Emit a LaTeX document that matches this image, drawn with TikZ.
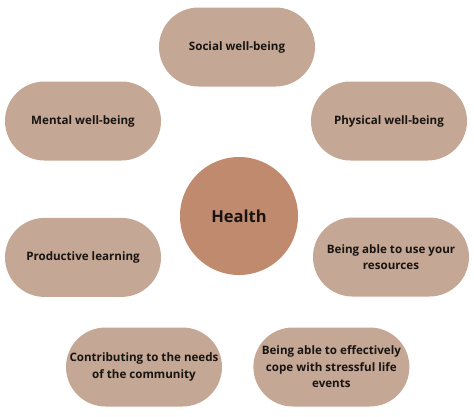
\documentclass[tikz,border=0pt]{standalone}
\usepackage{fontspec}
\setmainfont{Open Sans}
\usepackage{tikz}
\usetikzlibrary{positioning,shapes}
\definecolor{pilltan}{RGB}{196,167,148}
\definecolor{centertan}{RGB}{192,138,111}
\definecolor{inktext}{RGB}{24,20,18}

\begin{document}
\begin{tikzpicture}[
x=1pt, y=-1pt,
pill/.style={rounded rectangle, fill=pilltan, minimum width=160pt, minimum height=79pt, inner sep=2pt, align=center, font=\bfseries\fontsize{11.6}{16.5}\selectfont, text=inktext},
hub/.style={circle, fill=centertan, minimum size=118pt, inner sep=0pt, font=\bfseries\fontsize{16.5}{19}\selectfont, text=inktext},
]
\useasboundingbox (0,0) rectangle (474,416);

%Centre
\node[hub] (health) at (239,216) {Health};

%Top and side pills
\node[pill] (social) at (237,47) {Social well-being};
\node[pill] (mental) at (83,121) {Mental well-being};
\node[pill] (physical) at (389,121) {Physical well-being};
\node[pill] (productive) [below=57pt of mental] {Productive learning};
\node[pill] (resources) at (391,257) {Being able to use your\\resources};

%Bottom pills
\node[pill] (community) at (144,367) {Contributing to the needs\\of the community};
\node[pill] (coping) [right=31pt of community] {Being able to effectively\\cope with stressful life\\events};
\end{tikzpicture}
\end{document}
